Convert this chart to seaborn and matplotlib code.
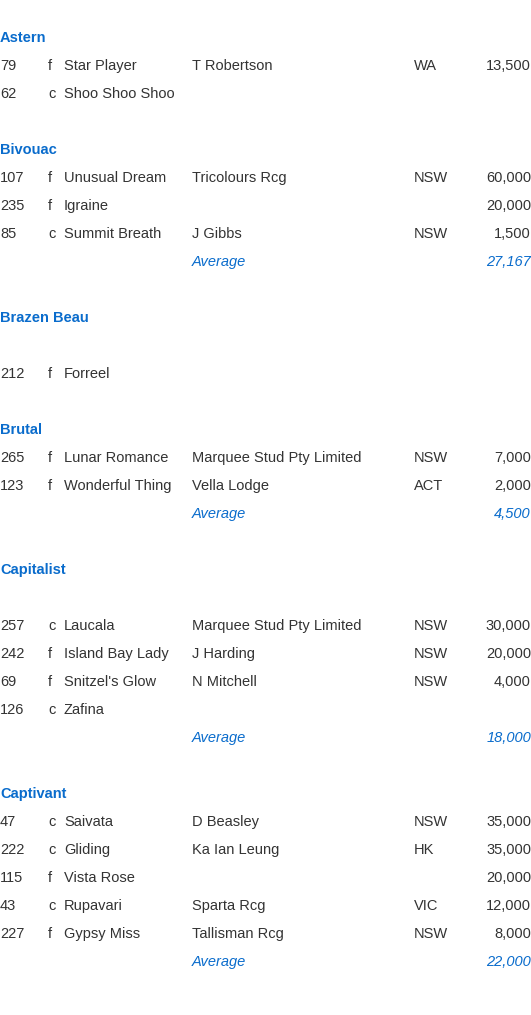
import matplotlib
matplotlib.use("Agg")
import matplotlib.pyplot as plt
import seaborn as sns
import pandas as pd

sires = ["Astern", "Bivouac", "Brazen Beau", "Brutal", "Capitalist", "Captivant"]
spacer_sires = ["Brazen Beau", "Capitalist"]  # blank line under heading

lot_sire = ["Astern", "Astern",
            "Bivouac", "Bivouac", "Bivouac",
            "Brazen Beau",
            "Brutal", "Brutal",
            "Capitalist", "Capitalist", "Capitalist", "Capitalist",
            "Captivant", "Captivant", "Captivant", "Captivant", "Captivant"]
lot_no = [79, 62, 107, 235, 85, 212, 265, 123, 257, 242, 69, 126, 47, 222, 115, 43, 227]
lot_sex = ["f", "c", "f", "f", "c", "f", "f", "f", "c", "f", "f", "c", "c", "c", "f", "c", "f"]
lot_name = ["Star Player", "Shoo Shoo Shoo", "Unusual Dream", "Igraine", "Summit Breath",
            "Forreel", "Lunar Romance", "Wonderful Thing", "Laucala", "Island Bay Lady",
            "Snitzel's Glow", "Zafina", "Saivata", "Gliding", "Vista Rose", "Rupavari", "Gypsy Miss"]
lot_vendor = ["T Robertson", "", "Tricolours Rcg", "", "J Gibbs", "",
              "Marquee Stud Pty Limited", "Vella Lodge", "Marquee Stud Pty Limited",
              "J Harding", "N Mitchell", "", "D Beasley", "Ka Ian Leung", "", "Sparta Rcg", "Tallisman Rcg"]
lot_state = ["WA", "", "NSW", "", "NSW", "", "NSW", "ACT", "NSW", "NSW", "NSW", "",
             "NSW", "HK", "", "VIC", "NSW"]
lot_price = [13500, None, 60000, 20000, 1500, None, 7000, 2000, 30000, 20000, 4000, None,
             35000, 35000, 20000, 12000, 8000]

df = pd.DataFrame({"sire": lot_sire, "lot": lot_no, "sex": lot_sex, "name": lot_name,
                   "vendor": lot_vendor, "state": lot_state, "price": lot_price})

sns.set_theme(style="white")
plt.rcParams["font.family"] = ["Liberation Sans", "DejaVu Sans"]

W, H = 531, 1015
fig = plt.figure(figsize=(W / 100, H / 100), dpi=100)
ax = fig.add_axes([0, 0, 1, 1])
ax.set_xlim(0, W)
ax.set_ylim(H, 0)
ax.axis("off")

BLUE = "#0a6ccc"
TXT = "#333333"
FS = 10.5
STEP = 28

y = 38
for sire in sires:
    ax.text(0, y, sire, color=BLUE, fontsize=FS, fontweight="bold", va="center")
    y += STEP * (2 if sire in spacer_sires else 1)
    sub = df[df["sire"] == sire]
    for _, r in sub.iterrows():
        ax.text(0, y, str(r["lot"]), color=TXT, fontsize=FS, va="center")
        ax.text(48, y, r["sex"], color=TXT, fontsize=FS, va="center")
        ax.text(64, y, r["name"], color=TXT, fontsize=FS, va="center")
        ax.text(192, y, r["vendor"], color=TXT, fontsize=FS, va="center")
        ax.text(414, y, r["state"], color=TXT, fontsize=FS, va="center")
        if pd.notna(r["price"]):
            ax.text(531, y, f"{int(r['price']):,}", color=TXT, fontsize=FS, va="center", ha="right")
        y += STEP
    priced = sub["price"].dropna()
    if len(priced) >= 2:
        ax.text(192, y, "Average", color=BLUE, fontsize=FS, style="italic", va="center")
        ax.text(531, y, f"{int(round(priced.mean())):,}", color=BLUE, fontsize=FS,
                style="italic", va="center", ha="right")
        y += STEP
    y += STEP

fig.savefig("out.png", dpi=100)
